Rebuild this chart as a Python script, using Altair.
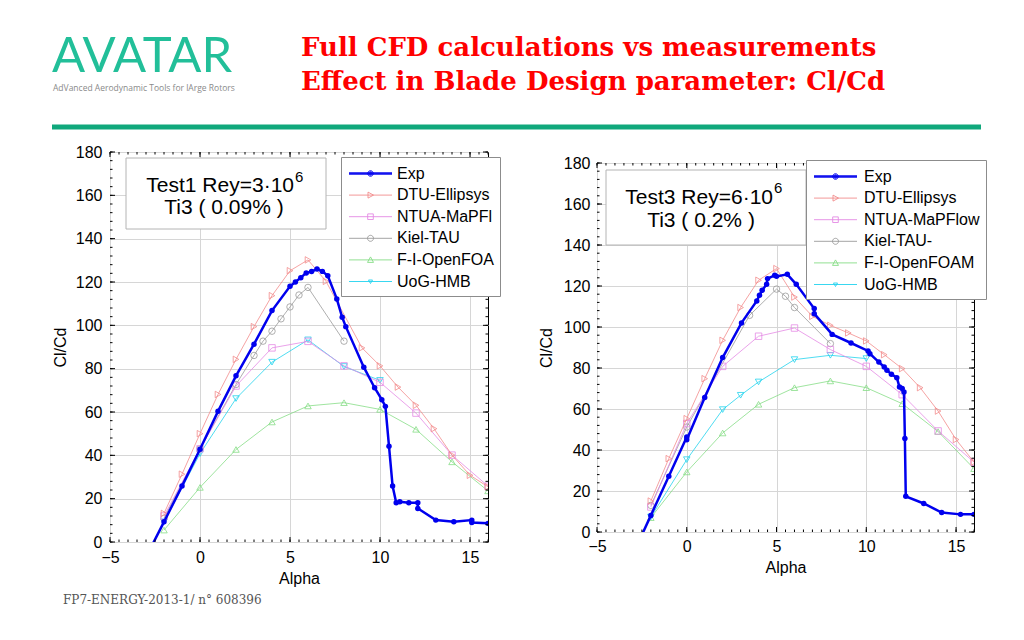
import altair as alt
import pandas as pd

# ---------------- data ----------------
# Left panel: Test1, Re = 3e6
L_EXP_A = [-3.0, -2.0, -1.0, 0.0, 1.0, 2.0, 3.0, 4.0, 5.0, 5.3, 5.6, 5.9, 6.2, 6.5, 6.8, 7.1, 7.6, 7.9, 8.1,
           9.1, 9.7, 10.1, 10.3, 10.5, 10.7, 10.9, 11.1, 11.6, 12.1, 12.1, 13.1, 14.1, 15.1, 15.1, 16.0]
L_EXP_V = [-7.0, 9.3, 25.8, 42.8, 60.3, 76.7, 91.3, 106.8, 118.0, 120.0, 122.0, 124.2, 124.8, 126.0, 124.9, 122.9,
           112.2, 103.7, 99.4, 80.7, 71.2, 65.7, 62.6, 44.2, 25.8, 18.1, 18.6, 18.1, 18.1, 15.5, 10.1, 9.3, 10.1, 9.0, 8.6]
L_DTU_A = [-2, -1, 0, 1, 2, 3, 4, 5, 6, 7, 9, 10, 11, 12, 13, 14, 15, 16]
L_DTU_V = [13.2, 31.3, 50.0, 68.1, 84.3, 99.4, 113.7, 125.2, 130.2, 120.3, 89.6, 81.3, 71.5, 63.1, 52.3, 40.1, 30.8, 25.5]
L_NTUA_A = [-2, 0, 2, 4, 6, 8, 10, 12, 14, 16]
L_NTUA_V = [12.0, 43.0, 72.0, 89.6, 92.6, 81.3, 73.7, 59.5, 40.1, 25.8]
L_KIEL_A = [-2, 0, 2, 3, 3.5, 4, 4.5, 5, 5.5, 6, 8]
L_KIEL_V = [11.0, 43.0, 72.7, 86.1, 92.7, 97.3, 103.0, 108.5, 114.0, 117.5, 92.7]
L_FOAM_A = [-2, 0, 2, 4, 6, 8, 10, 12, 14, 16]
L_FOAM_V = [5.5, 25.2, 42.7, 55.4, 62.8, 64.3, 61.2, 52.0, 37.0, 23.6]
L_UOG_A = [-2, 0, 2, 4, 6, 8, 10]
L_UOG_V = [9.3, 40.8, 66.2, 83.0, 93.3, 81.0, 74.6]

# Right panel: Test3, Re = 6e6
R_EXP_A = [-3.0, -2.0, -1.0, 0.0, 0.0, 1.0, 2.0, 3.05, 3.9, 4.05, 4.2, 4.45, 4.5, 4.9, 5.0, 5.6, 6.1, 7.1, 7.1,
           8.1, 9.15, 10.1, 10.2, 10.7, 11.0, 11.15, 11.4, 11.7, 11.85, 12.0, 12.1, 12.15, 12.2, 13.2, 14.2, 15.25, 16.0]
R_EXP_V = [-11.0, 8.1, 27.2, 46.3, 45.0, 65.6, 85.1, 102.0, 112.7, 115.5, 117.9, 120.8, 123.6, 125.2, 124.7, 125.7,
           120.8, 109.0, 106.5, 96.4, 92.2, 88.3, 87.0, 82.9, 80.5, 78.9, 76.9, 75.3, 70.7, 70.0, 68.3, 45.6, 17.4,
           13.9, 9.5, 8.6, 8.6]
R_DTU_A = [-2, -1, 0, 1, 2, 3, 4, 5, 6, 7, 8, 9, 10, 11, 12, 13, 14, 15, 16]
R_DTU_V = [15.1, 35.8, 55.3, 74.8, 93.5, 109.5, 122.8, 128.5, 114.6, 105.2, 100.8, 97.1, 93.2, 86.5, 79.7, 70.4,
           59.0, 45.1, 34.1]
R_NTUA_A = [-2, 0, 2, 4, 6, 8, 10, 12, 14, 16]
R_NTUA_V = [12.2, 52.9, 80.8, 95.5, 99.5, 89.0, 80.8, 67.0, 49.3, 34.1]
R_KIEL_A = [-2, 0, 3.5, 5, 5.5, 6, 8]
R_KIEL_V = [13.0, 51.2, 105.7, 118.5, 115.0, 109.5, 91.9]
R_FOAM_A = [-2, 0, 2, 4, 6, 8, 10, 12, 14, 16]
R_FOAM_V = [7.0, 29.3, 48.3, 62.3, 70.4, 73.7, 70.4, 62.6, 49.0, 30.9]
R_UOG_A = [-2, 0, 2, 3, 4, 6, 8, 10]
R_UOG_V = [7.3, 35.3, 59.7, 66.7, 73.2, 84.1, 86.2, 84.6]

NAMES_L = ["Exp", "DTU-Ellipsys", "NTUA-MaPFl", "Kiel-TAU", "F-I-OpenFOA", "UoG-HMB"]
NAMES_R = ["Exp", "DTU-Ellipsys", "NTUA-MaPFlow", "Kiel-TAU-", "F-I-OpenFOAM", "UoG-HMB"]

X_MAJOR = [-5, 0, 5, 10, 15]
Y_MAJOR = [0, 20, 40, 60, 80, 100, 120, 140, 160, 180]
X_MINOR = [v / 2 for v in range(-10, 33)]
Y_MINOR = list(range(0, 181, 4))

# ---------------- styles ----------------
FONT = "Liberation Sans"
COLORS = ["#0000ee", "#f28c8c", "#e48ae4", "#9a9a9a", "#86dd86", "#22d3ee"]
SHAPES = ["circle", "triangle-right", "square", "circle", "triangle-up", "triangle-down"]
WIDTHS = [2.5, 0.8, 0.8, 0.8, 0.8, 0.8]

C = 1.3


def circ(cx, r):
    return f"M{cx + r},0A{r},{r},0,1,1,{cx - r},0A{r},{r},0,1,1,{cx + r},0"


LINE = f"M{C - 2.15},0H{C + 2.15}"
LEG_PATHS = [
    f"M{C - 2.15},-0.08H{C + 2.15}" + LINE + f"M{C - 2.15},0.08H{C + 2.15}" + circ(C, 0.28) + circ(C, 0.18) + circ(C, 0.08),
    LINE + f"M{C - 0.25},-0.3L{C + 0.3},0L{C - 0.25},0.3Z",
    LINE + f"M{C - 0.28},-0.28H{C + 0.28}V0.28H{C - 0.28}Z",
    LINE + circ(C, 0.3),
    LINE + f"M{C - 0.3},0.25L{C},-0.3L{C + 0.3},0.25Z",
    LINE + f"M{C - 0.2},-0.15H{C + 0.2}L{C},0.2Z",
]


def panel(series, names, field, width, height, lpx, tpx, lpy, tpy, leg_x, leg_y, leg_off, box, texts, extra):
    X = alt.X("alpha:Q", scale=alt.Scale(domain=[-5, 16], nice=False, zero=False),
              axis=alt.Axis(values=X_MAJOR, title="Alpha", grid=True, ticks=False, domain=False,
                            labelPadding=lpx, titlePadding=tpx, labelFlush=False))
    Y = alt.Y("cl:Q", scale=alt.Scale(domain=[0, 180], nice=False, zero=False),
              axis=alt.Axis(values=Y_MAJOR, title="Cl/Cd", grid=True, ticks=False, domain=False,
                            labelPadding=lpy, titlePadding=tpy, labelFlush=False))
    one = pd.DataFrame({"k": [0]})
    layers = []
    # annotation box
    layers.append(alt.Chart(one).mark_rect(fill="white", stroke="#b4b4b4", strokeWidth=1).encode(
        x=alt.value(box[0]), x2=alt.value(box[1]), y=alt.value(box[2]), y2=alt.value(box[3])))
    for (tx, ty, txt, size, align) in texts:
        layers.append(alt.Chart(one).mark_text(align=align, baseline="alphabetic", font=FONT, fontSize=size,
                                               color="black").encode(
            x=alt.value(tx), y=alt.value(ty), text=alt.value(txt)))
    # data series (Exp drawn last, on top)
    for i in reversed(range(len(series))):
        a, v = series[i]
        df = pd.DataFrame({"alpha": a, "cl": v, "i": list(range(len(a)))})
        base = alt.Chart(df)
        layers.append(base.mark_line(color=COLORS[i], strokeWidth=WIDTHS[i], clip=True).encode(
            x=X, y=Y, order="i:Q"))
        if i == 0:
            pts = base.mark_point(shape="circle", filled=True, size=30, color=COLORS[0], opacity=1, clip=True)
        else:
            pts = base.mark_point(shape=SHAPES[i], filled=False, size=42, color=COLORS[i], strokeWidth=0.8,
                                  opacity=1, clip=True)
        layers.append(pts.encode(x=X, y=Y))
    # inward ticks on the four edges (MATLAB style)
    for vals, ln in ((X_MINOR, 2.5), (X_MAJOR, 5)):
        bdf = pd.DataFrame({"alpha": vals, "cl": 0.0})
        tdf = pd.DataFrame({"alpha": vals, "cl": 180.0})
        layers.append(alt.Chart(bdf).mark_rule(color="black", strokeWidth=1, y2Offset=-ln).encode(
            x=X, y=Y, y2=alt.Y2("cl:Q")))
        layers.append(alt.Chart(tdf).mark_rule(color="black", strokeWidth=1, y2Offset=ln).encode(
            x=X, y=Y, y2=alt.Y2("cl:Q")))
    for vals, ln in ((Y_MINOR, 2.5), (Y_MAJOR, 5)):
        ldf = pd.DataFrame({"alpha": -5.0, "cl": vals})
        rdf = pd.DataFrame({"alpha": 16.0, "cl": vals})
        layers.append(alt.Chart(ldf).mark_rule(color="black", strokeWidth=1, x2Offset=ln).encode(
            x=X, x2=alt.X2("alpha:Q"), y=Y))
        layers.append(alt.Chart(rdf).mark_rule(color="black", strokeWidth=1, x2Offset=-ln).encode(
            x=X, x2=alt.X2("alpha:Q"), y=Y))
    # legend carrier
    legend = alt.Legend(orient="none", legendX=leg_x, legendY=leg_y, title=None, padding=6,
                        fillColor="white", strokeColor="#8c8c8c", symbolSize=400, symbolStrokeWidth=0.9,
                        labelFont=FONT, labelFontSize=16, labelOffset=leg_off, rowPadding=2.6, labelLimit=300,
                        labelColor="black")
    leg_df = pd.DataFrame({field: names})
    layers.append(alt.Chart(leg_df).transform_filter("false").mark_point(opacity=1, filled=False).encode(
        color=alt.Color(f"{field}:N", scale=alt.Scale(domain=names, range=COLORS), legend=legend),
        shape=alt.Shape(f"{field}:N", scale=alt.Scale(domain=names, range=LEG_PATHS), legend=legend)))
    layers.extend(extra)
    return alt.layer(*layers).properties(width=width, height=height)


one = pd.DataFrame({"k": [0]})
header = [
    # pin the top-left corner of the page
    alt.Chart(one).mark_rule(color="white", strokeWidth=1).encode(
        x=alt.value(-101), x2=alt.value(-100), y=alt.value(-143)),
    alt.Chart(one).mark_text(align="left", baseline="alphabetic", font="DejaVu Serif", fontWeight="bold",
                             fontSize=26, color="#ff0000").encode(
        x=alt.value(191), y=alt.value(-96), text=alt.value("Full CFD calculations vs measurements")),
    alt.Chart(one).mark_text(align="left", baseline="alphabetic", font="DejaVu Serif", fontWeight="bold",
                             fontSize=26, color="#ff0000").encode(
        x=alt.value(191), y=alt.value(-62), text=alt.value("Effect in Blade Design parameter: Cl/Cd")),
    alt.Chart(one).mark_text(align="left", baseline="alphabetic", font="Lato", fontSize=49,
                             color="#22bf99").encode(
        x=alt.value(-58), y=alt.value(-80), text=alt.value("AVATAR")),
    alt.Chart(one).mark_text(align="left", baseline="alphabetic", font="Open Sans", fontSize=8.5,
                             color="#8a8a8a").encode(
        x=alt.value(-57), y=alt.value(-61), text=alt.value("AdVanced Aerodynamic Tools for lArge Rotors")),
    alt.Chart(one).mark_rule(color="#10a87c", strokeWidth=5).encode(
        x=alt.value(-58), x2=alt.value(871), y=alt.value(-25)),
    alt.Chart(one).mark_text(align="left", baseline="alphabetic", font="DejaVu Serif", fontSize=12,
                             color="#555555").encode(
        x=alt.value(-47), y=alt.value(452), text=alt.value("FP7-ENERGY-2013-1/ n\u00b0 608396")),
]

left = panel(
    [(L_EXP_A, L_EXP_V), (L_DTU_A, L_DTU_V), (L_NTUA_A, L_NTUA_V), (L_KIEL_A, L_KIEL_V),
     (L_FOAM_A, L_FOAM_V), (L_UOG_A, L_UOG_V)],
    NAMES_L, "model_t1", 378, 390, 7, 5, 8, 7, 231, 5, 29,
    (16, 216, 6, 77),
    [(184, 40, "Test1 Rey=3\u00b710", 21, "right"), (185, 29.5, "6", 15, "left"),
     (114, 62, "Ti3 ( 0.09% )", 21, "center")],
    header)

right = panel(
    [(R_EXP_A, R_EXP_V), (R_DTU_A, R_DTU_V), (R_NTUA_A, R_NTUA_V), (R_KIEL_A, R_KIEL_V),
     (R_FOAM_A, R_FOAM_V), (R_UOG_A, R_UOG_V)],
    NAMES_R, "model_t3", 377, 369, 6, 5, 7, 9, 209, 8, 31,
    (9, 209, 7, 82),
    [(176, 40.5, "Test3 Rey=6\u00b710", 21, "right"), (177, 30, "6", 15, "left"),
     (104, 63.5, "Ti3 ( 0.2% )", 21, "center")],
    [])

spacer = alt.Chart(one).mark_text(text=" ").encode(x=alt.value(0), y=alt.value(0)).properties(
    width=377, height=11, view=alt.ViewBackground(strokeOpacity=0))

chart = alt.hconcat(
    left, alt.vconcat(spacer, right, spacing=0, bounds="flush"), spacing=109, bounds="flush"
).resolve_scale(
    color="independent", shape="independent"
).properties(padding=0, background="white").configure_view(
    stroke="#000000", strokeWidth=1
).configure_axis(
    labelFont=FONT, titleFont=FONT, labelFontSize=16, titleFontSize=16, titleFontWeight="normal",
    labelColor="black", titleColor="black", gridColor="#d6d6d6", gridWidth=1
)

chart.save("out.html", embed_options={"renderer": "svg", "actions": False})
